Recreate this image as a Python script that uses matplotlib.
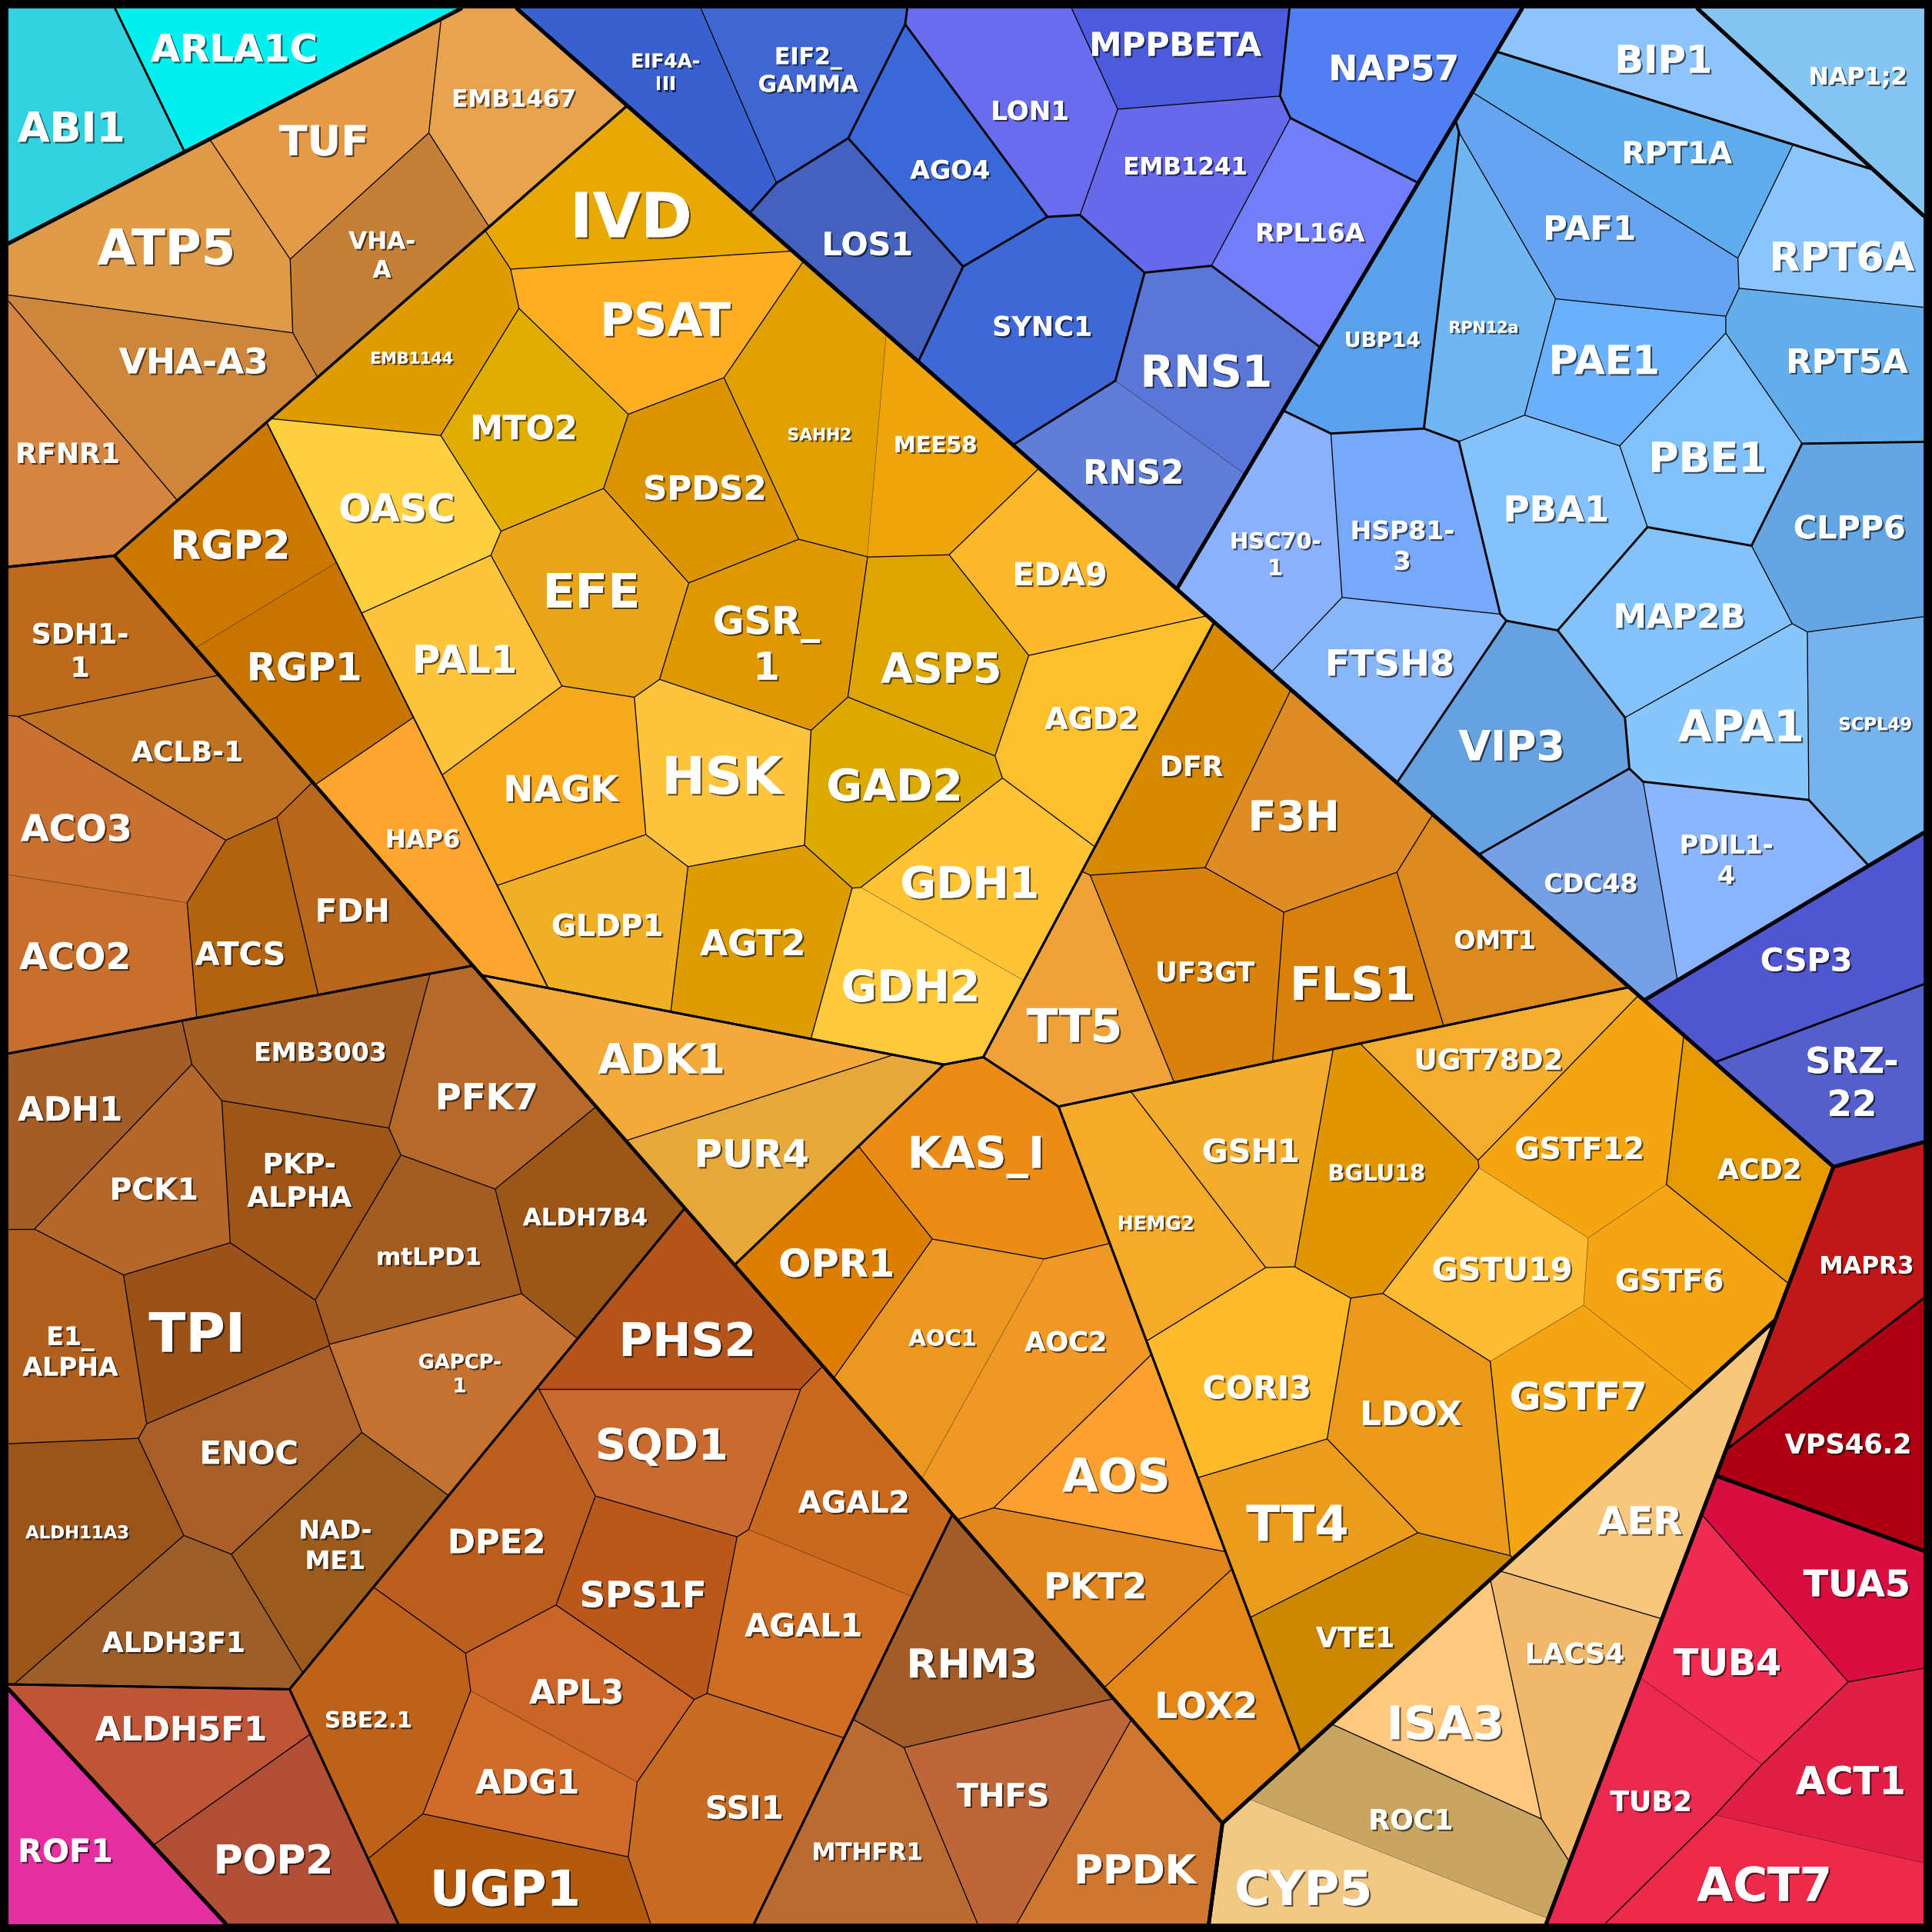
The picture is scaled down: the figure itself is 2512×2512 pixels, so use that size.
#!/usr/bin/env python3
"""Voronoi treemap of gene labels, drawn as a hierarchical power diagram."""

import matplotlib
matplotlib.use("Agg")
import matplotlib.pyplot as plt
import matplotlib.patheffects as pe
from matplotlib.collections import LineCollection, PolyCollection

# canvas is laid out in 1568 "display" units, inner square inside a black frame
SIZE = 1568
LO, HI = 7, 1561
PX = 1.602 * 0.72          # display unit -> points
FONT_SCALE = 1.582 * 0.94  # cap height (display units) -> font size in points

# ---- hierarchy of nested cells (power diagram sites + weights per level) ----
TREE = {
    "root": ["X", "Y", "Z"],
    "X": ["navy", "sky", "nap", "violet"],
    "Y": ["cyan", "atp", "upper", "lower", "beige", "magenta"],
    "Z": ["crimson", "red"],
    "upper": ["y1", "y2", "y3", "y4", "y5"],
    "y1": ["rgp", "core"],
    "lower": ["w1", "w2", "w3", "w4", "w5"],
    "sky": ["skytop", "skyrest"],
}
NODE_SITE = {
    "X": (1088.4, 399.4), "Y": (560.0, 1000.0), "Z": (1333.2, 1293.4),
    "navy": (996.2, 195.5), "sky": (1340.0, 400.0), "nap": (1508.9, 215.75),
    "violet": (1571.4, 786.0),
    "cyan": (137.9, 72.5), "atp": (230.0, 250.0), "upper": (688.4, 772.1),
    "lower": (318.5, 1095.4), "beige": (1076.3, 1198.2), "magenta": (61.7, 1333.2),
    "crimson": (1490.0, 1080.0), "red": (1388.0, 1362.2),
    "y1": (640.0, 480.0), "y2": (570.0, 842.0), "y3": (978.1, 659.6),
    "y4": (741.2, 1020.7), "y5": (1030.9, 912.0),
    "rgp": (250.0, 560.0), "core": (518.6, 426.3),
    "w1": (140.0, 657.3), "w2": (220.0, 1080.0), "w3": (214.7, 1380.3),
    "w4": (451.9, 1270.5), "w5": (748.9, 1414.4),
    "skytop": (1459.6, 18.4), "skyrest": (1340.0, 400.0),
}
NODE_WEIGHT = {
    "X": -404447, "Y": 0, "Z": -720037,
    "navy": -72712, "sky": 0, "nap": -95099, "violet": -112822,
    "cyan": 39445, "atp": 59170, "upper": 457606, "lower": 466101,
    "beige": -49033, "magenta": 297535,
    "crimson": 0, "red": 3780,
    "y1": 0, "y2": -124432, "y3": -96049, "y4": -138152, "y5": -137354,
    "rgp": 0, "core": 49991,
    "w1": -39220, "w2": 0, "w3": -84408, "w4": -27760, "w5": -97614,
    "skytop": -83410, "skyrest": 0,
}

# ---- genes in each innermost cell, split into sub-groups ----
CYAN_GENES = [["ABI1"], ["ARLA1C"]]
ATP_GENES = [["ATP5", "TUF", "EMB1467", "VHA-A", "VHA-A3", "RFNR1"]]
RGP_GENES = [["RGP2", "RGP1", "HAP6"]]
CORE_GENES = [["IVD", "PSAT", "EMB1144", "MTO2", "OASC", "EFE", "SPDS2", "SAHH2",
               "MEE58", "EDA9", "ASP5", "GSR_1", "HSK", "GAD2", "AGD2", "GDH1",
               "GDH2", "AGT2", "GLDP1", "NAGK", "PAL1"]]
Y2_GENES = [["ADK1", "PUR4"]]
Y3_GENES = [["TT5", "DFR", "F3H", "UF3GT", "FLS1", "OMT1"]]
Y4_GENES = [["KAS_I", "OPR1", "AOC1", "AOC2", "AOS", "PKT2", "LOX2"]]
Y5_GENES = [["GSH1", "HEMG2", "CORI3", "TT4", "VTE1", "LDOX", "BGLU18", "UGT78D2",
             "GSTF12", "GSTU19", "GSTF6", "GSTF7", "ACD2"]]
W1_GENES = [["SDH1-1", "ACLB-1", "ACO3", "ACO2", "ATCS", "FDH"]]
W2_GENES = [["ADH1", "EMB3003", "PFK7", "PCK1", "PKP-ALPHA", "mtLPD1", "ALDH7B4",
             "TPI", "E1_ALPHA", "GAPCP-1", "ENOC", "NAD-ME1", "ALDH11A3", "ALDH3F1"]]
W3_GENES = [["ALDH5F1", "POP2"]]
W4_GENES = [["SBE2.1", "UGP1", "ADG1", "APL3", "DPE2", "SPS1F", "SQD1", "PHS2",
             "AGAL2", "AGAL1", "SSI1"]]
W5_GENES = [["RHM3", "MTHFR1", "THFS", "PPDK"]]
BEIGE_GENES = [["AER", "LACS4", "ISA3", "ROC1", "CYP5"]]
MAGENTA_GENES = [["ROF1"]]
NAVY_GENES = [["EIF4A-III", "EIF2_GAMMA"], ["LOS1"], ["AGO4"],
              ["LON1", "MPPBETA", "EMB1241", "RPL16A"], ["NAP57"], ["SYNC1"],
              ["RNS1", "RNS2"]]
SKYTOP_GENES = [["BIP1"]]
SKYREST_GENES = [["RPT1A", "PAF1", "RPN12a", "PAE1", "RPT6A", "RPT5A", "PBE1", "PBA1"],
                 ["UBP14"], ["HSC70-1", "HSP81-3", "FTSH8"], ["VIP3"],
                 ["MAP2B", "APA1", "SCPL49", "CLPP6"], ["CDC48", "PDIL1-4"]]
NAP_GENES = [["NAP1;2"]]
VIOLET_GENES = [["CSP3"], ["SRZ-22"]]
CRIMSON_GENES = [["MAPR3"], ["VPS46.2"]]
RED_GENES = [["TUA5", "TUB4", "TUB2", "ACT1", "ACT7"]]

# genes whose shared borders are only faintly drawn
FAINT = [{"RGP2", "RGP1"}, {"GDH1", "GDH2"}, {"SAHH2", "MEE58"}, {"AOC1", "AOC2"},
         {"GSTF12", "GSTU19", "GSTF6", "GSTF7"}, {"ACO3", "ACO2"}, {"ADG1", "APL3"},
         {"AGAL1", "AGAL2"}, {"RNS1", "RNS2"}, {"ROC1", "CYP5"}, {"TUB4", "TUB2"},
         {"ACT1", "ACT7"}]

LABEL_TEXT = {
    "EIF4A-III": "EIF4A-\nIII", "EIF2_GAMMA": "EIF2_\nGAMMA", "VHA-A": "VHA-\nA",
    "SDH1-1": "SDH1-\n1", "GSR_1": "GSR_\n1", "HSC70-1": "HSC70-\n1",
    "HSP81-3": "HSP81-\n3", "PKP-ALPHA": "PKP-\nALPHA", "E1_ALPHA": "E1_\nALPHA",
    "GAPCP-1": "GAPCP-\n1", "NAD-ME1": "NAD-\nME1", "PDIL1-4": "PDIL1-\n4",
    "SRZ-22": "SRZ-\n22",
}

# ---- label centres (also the cell sites unless listed in SITE_OVERRIDE) ----
LABEL_AT = {
    "ABI1": (58, 102), "ARLA1C": (190, 38),
    "ATP5": (135, 199), "TUF": (263, 113), "EMB1467": (417, 79), "VHA-A": (310, 206),
    "VHA-A3": (157, 292), "RFNR1": (55, 367),
    "IVD": (512, 173), "PSAT": (540, 258), "EMB1144": (334, 290), "MTO2": (425, 346),
    "OASC": (322, 411), "EFE": (480, 478), "SPDS2": (572, 395), "SAHH2": (665, 352),
    "MEE58": (759, 360), "EDA9": (860, 465), "ASP5": (764, 541), "GSR_1": (622, 521),
    "HSK": (586, 628), "GAD2": (726, 636), "AGD2": (886, 582), "GDH1": (787, 715),
    "GDH2": (739, 799), "AGT2": (611, 764), "GLDP1": (493, 750), "NAGK": (455, 639),
    "PAL1": (377, 534), "RGP2": (187, 441), "RGP1": (247, 540), "HAP6": (343, 680),
    "ADK1": (537, 858), "PUR4": (610, 935),
    "TT5": (872, 831), "DFR": (967, 621), "F3H": (1050, 661), "UF3GT": (978, 788),
    "FLS1": (1098, 797), "OMT1": (1213, 762),
    "KAS_I": (792, 934), "OPR1": (679, 1024), "AOC1": (765, 1085), "AOC2": (865, 1088),
    "AOS": (906, 1196), "PKT2": (889, 1286), "LOX2": (979, 1383),
    "GSH1": (1015, 933), "HEMG2": (938, 992), "CORI3": (1020, 1125), "TT4": (1053, 1235),
    "VTE1": (1100, 1328), "LDOX": (1145, 1146), "BGLU18": (1117, 951),
    "UGT78D2": (1208, 859), "GSTF12": (1282, 931), "GSTU19": (1219, 1029),
    "GSTF6": (1355, 1038), "GSTF7": (1281, 1132), "ACD2": (1428, 948),
    "SDH1-1": (65, 527), "ACLB-1": (152, 609), "ACO3": (62, 671), "ACO2": (61, 775),
    "ATCS": (195, 773), "FDH": (286, 738),
    "ADH1": (57, 899), "EMB3003": (260, 853), "PFK7": (395, 889), "PCK1": (125, 964),
    "PKP-ALPHA": (243, 957), "mtLPD1": (348, 1019), "ALDH7B4": (475, 987),
    "TPI": (160, 1080), "E1_ALPHA": (57, 1096), "GAPCP-1": (373, 1114),
    "ENOC": (202, 1178), "NAD-ME1": (272, 1253), "ALDH11A3": (63, 1243),
    "ALDH3F1": (141, 1332),
    "ALDH5F1": (147, 1402), "POP2": (222, 1508),
    "SBE2.1": (299, 1395), "UGP1": (410, 1531), "ADG1": (428, 1445), "APL3": (468, 1372),
    "DPE2": (403, 1250), "SPS1F": (522, 1293), "SQD1": (537, 1171), "PHS2": (558, 1086),
    "AGAL2": (693, 1218), "AGAL1": (652, 1318), "SSI1": (604, 1466),
    "RHM3": (789, 1349), "MTHFR1": (704, 1502), "THFS": (814, 1456), "PPDK": (921, 1516),
    "AER": (1331, 1233), "LACS4": (1278, 1341), "ISA3": (1173, 1397),
    "ROC1": (1145, 1476), "CYP5": (1058, 1531),
    "ROF1": (53, 1501),
    "EIF4A-III": (540, 58), "EIF2_GAMMA": (656, 56), "LOS1": (704, 197),
    "AGO4": (771, 137), "SYNC1": (846, 264), "LON1": (836, 89), "MPPBETA": (954, 35),
    "EMB1241": (962, 134), "RNS1": (979, 300), "RNS2": (920, 382), "NAP57": (1131, 54),
    "RPL16A": (1063, 188),
    "BIP1": (1350, 47), "RPT1A": (1361, 123), "PAF1": (1290, 184), "RPT6A": (1495, 207),
    "UBP14": (1122, 275), "RPN12a": (1204, 265), "PAE1": (1302, 291),
    "RPT5A": (1499, 292), "PBE1": (1386, 370), "PBA1": (1263, 412), "CLPP6": (1501, 427),
    "HSC70-1": (1035, 449), "HSP81-3": (1138, 442), "FTSH8": (1128, 537),
    "MAP2B": (1363, 499), "APA1": (1413, 588), "SCPL49": (1522, 587), "VIP3": (1227, 604),
    "CDC48": (1291, 716), "PDIL1-4": (1401, 697),
    "NAP1;2": (1508, 61),
    "CSP3": (1466, 778), "SRZ-22": (1503, 877),
    "MAPR3": (1515, 1026), "VPS46.2": (1500, 1171),
    "TUA5": (1507, 1284), "TUB4": (1402, 1348), "TUB2": (1340, 1461),
    "ACT1": (1502, 1444), "ACT7": (1432, 1528),
}
# cell generators that sit away from the label, and power weights of cells
SITE_OVERRIDE = {
    "PSAT": (517, 251), "EIF4A-III": (574, 80.5), "EIF2_GAMMA": (619, 61),
    "ROC1": (1140, 1470), "CYP5": (1112, 1540), "PUR4": (571, 964),
    "SQD1": (558, 1168),
    "SDH1-1": (127, 500), "ACLB-1": (150, 612), "ACO3": (106, 686),
    "ACO2": (94, 763), "ATCS": (214, 753), "FDH": (274, 739),
    "PAF1": (1311, 203), "RPT6A": (1509, 195), "UBP14": (1128, 256),
    "VHA-A": (335, 192), "EMB1467": (430, 131), "VHA-A3": (120, 312),
    "MAPR3": (1490, 1040), "VPS46.2": (1556, 1126),
    "TUA5": (1472.7, 1276.4), "TUB4": (1400, 1340), "TUB2": (1394.8, 1347.3),
    "ACT1": (1503.7, 1448.3), "ACT7": (1502, 1455.7),
    "LACS4": (1290, 1372), "AOC2": (837, 1125),
}
LEAF_WEIGHT = {"TUA5": -2030, "TUB2": -951, "ACT1": -3672, "ACT7": -4360}

FILL = {
    "ABI1": "#30d3df", "ARLA1C": "#00f0f0",
    "ATP5": "#df9a48", "TUF": "#e59a47", "EMB1467": "#e8a34f", "VHA-A": "#c48036",
    "VHA-A3": "#cd873c", "RFNR1": "#d68441",
    "IVD": "#e9a904", "PSAT": "#fdae22", "EMB1144": "#df9c00", "MTO2": "#e0ae00",
    "OASC": "#fecf3e", "EFE": "#e9a61a", "SPDS2": "#da9500", "SAHH2": "#e0a000",
    "MEE58": "#efa50a", "EDA9": "#fcb82a", "ASP5": "#dda500", "GSR_1": "#df9800",
    "HSK": "#fec53c", "GAD2": "#dba900", "AGD2": "#fcbf2e", "GDH1": "#fec436",
    "GDH2": "#feca3c", "AGT2": "#dd9c00", "GLDP1": "#f0b025", "NAGK": "#f7a91c",
    "PAL1": "#fec53c", "RGP2": "#cc7800", "RGP1": "#c87500", "HAP6": "#fda52f",
    "ADK1": "#f4aa3a", "PUR4": "#e6a83a",
    "TT5": "#f0a23a", "DFR": "#d68800", "F3H": "#df8c25", "UF3GT": "#d8820c",
    "FLS1": "#d7810b", "OMT1": "#dc8920",
    "KAS_I": "#eb8c16", "OPR1": "#dc7f00", "AOC1": "#ec9722", "AOC2": "#ef9826",
    "AOS": "#fda030", "PKT2": "#e1861e", "LOX2": "#e38818",
    "GSH1": "#f3ad2e", "HEMG2": "#f6aa2a", "CORI3": "#feba2a", "TT4": "#ea9c1a",
    "VTE1": "#cc8800", "LDOX": "#ea9a18", "BGLU18": "#e19500", "UGT78D2": "#f3ae30",
    "GSTF12": "#f3a512", "GSTU19": "#fdbc34", "GSTF6": "#f5a514", "GSTF7": "#f4a514",
    "ACD2": "#e49a00",
    "SDH1-1": "#bd6a1a", "ACLB-1": "#bf7222", "ACO3": "#ca7131", "ACO2": "#c86f2e",
    "ATCS": "#b2630f", "FDH": "#b7661b",
    "ADH1": "#a45d26", "EMB3003": "#a45d22", "PFK7": "#b56a2c", "PCK1": "#b3672a",
    "PKP-ALPHA": "#9d5618", "mtLPD1": "#a35c22", "ALDH7B4": "#9c5718", "TPI": "#9b5219",
    "E1_ALPHA": "#af601e", "GAPCP-1": "#c37232", "ENOC": "#a85f28", "NAD-ME1": "#9b5b1c",
    "ALDH11A3": "#9b5519", "ALDH3F1": "#9d5f29",
    "ALDH5F1": "#bf5537", "POP2": "#b04f36",
    "SBE2.1": "#bf6219", "UGP1": "#b35a0c", "ADG1": "#d06b2a", "APL3": "#c96526",
    "DPE2": "#bb5e1d", "SPS1F": "#b9581a", "SQD1": "#c96b30", "PHS2": "#b4531a",
    "AGAL2": "#c8691e", "AGAL1": "#cf6d22", "SSI1": "#c76c22",
    "RHM3": "#a35b28", "MTHFR1": "#ba6b32", "THFS": "#bc663a", "PPDK": "#cf7730",
    "AER": "#f8c77e", "LACS4": "#eeb96c", "ISA3": "#fec97e", "ROC1": "#c9a562",
    "CYP5": "#f1c884",
    "ROF1": "#e52fa0",
    "EIF4A-III": "#3a60cf", "EIF2_GAMMA": "#3f66d1", "LOS1": "#4561c0", "AGO4": "#3a68d9",
    "SYNC1": "#3f67d5", "LON1": "#696cec", "MPPBETA": "#4c5bdb", "EMB1241": "#6669ea",
    "RNS1": "#5a76d6", "RNS2": "#607dd8", "NAP57": "#527ef2", "RPL16A": "#737efb",
    "BIP1": "#8cc4fb", "RPT1A": "#60adee", "PAF1": "#66a4f2", "RPT6A": "#8bc5fb",
    "UBP14": "#5ba0eb", "RPN12a": "#70b6f2", "PAE1": "#6bb0fa", "RPT5A": "#63aeea",
    "PBE1": "#80c1fb", "PBA1": "#84c2fb", "CLPP6": "#63a6e3", "HSC70-1": "#8bb1fc",
    "HSP81-3": "#78a8fb", "FTSH8": "#88b6fb", "MAP2B": "#84c2fb", "APA1": "#86c6fb",
    "SCPL49": "#76b3ee", "VIP3": "#66a2df", "CDC48": "#76a0e6", "PDIL1-4": "#8ab5fc",
    "NAP1;2": "#84c5f2",
    "CSP3": "#5055d0", "SRZ-22": "#555fcb",
    "MAPR3": "#c01818", "VPS46.2": "#ac0012",
    "TUA5": "#d80d40", "TUB4": "#f02b51", "TUB2": "#ea2850", "ACT1": "#e01f44",
    "ACT7": "#ee2a4b",
}

CAP = {
    "ABI1": 26, "ARLA1C": 24, "ATP5": 31, "TUF": 26, "EMB1467": 15, "VHA-A": 15,
    "VHA-A3": 22, "RFNR1": 17.5,
    "IVD": 39, "PSAT": 29, "EMB1144": 10, "MTO2": 21, "OASC": 24, "EFE": 30,
    "SPDS2": 21, "SAHH2": 10.5, "MEE58": 14, "EDA9": 20, "ASP5": 26, "GSR_1": 24,
    "HSK": 32.5, "GAD2": 27.5, "AGD2": 19, "GDH1": 27.5, "GDH2": 27.5, "AGT2": 22.5,
    "GLDP1": 19, "NAGK": 22.5, "PAL1": 24, "RGP2": 25, "RGP1": 24, "HAP6": 15.5,
    "ADK1": 26, "PUR4": 24, "TT5": 29, "DFR": 17.5, "F3H": 26, "UF3GT": 17,
    "FLS1": 29, "OMT1": 16,
    "KAS_I": 27.5, "OPR1": 24, "AOC1": 14, "AOC2": 17, "AOS": 29, "PKT2": 22.5,
    "LOX2": 22.5,
    "GSH1": 20, "HEMG2": 12, "CORI3": 20, "TT4": 31, "VTE1": 17.5, "LDOX": 21,
    "BGLU18": 14, "UGT78D2": 18, "GSTF12": 19, "GSTU19": 20, "GSTF6": 19,
    "GSTF7": 24, "ACD2": 17.5,
    "SDH1-1": 17.5, "ACLB-1": 17.5, "ACO3": 23, "ACO2": 23, "ATCS": 20, "FDH": 20,
    "ADH1": 21, "EMB3003": 16, "PFK7": 22.5, "PCK1": 19, "PKP-ALPHA": 17.5,
    "mtLPD1": 15, "ALDH7B4": 15, "TPI": 34, "E1_ALPHA": 16, "GAPCP-1": 12.5,
    "ENOC": 20, "NAD-ME1": 16, "ALDH11A3": 11, "ALDH3F1": 17.5,
    "ALDH5F1": 21, "POP2": 25,
    "SBE2.1": 14, "UGP1": 31, "ADG1": 21, "APL3": 21, "DPE2": 21, "SPS1F": 22.5,
    "SQD1": 27, "PHS2": 29, "AGAL2": 19, "AGAL1": 20, "SSI1": 20,
    "RHM3": 25, "MTHFR1": 15, "THFS": 20, "PPDK": 25,
    "AER": 24, "LACS4": 17.5, "ISA3": 29, "ROC1": 17.5, "CYP5": 30,
    "ROF1": 20,
    "EIF4A-III": 12, "EIF2_GAMMA": 14.5, "LOS1": 20, "AGO4": 16, "SYNC1": 17,
    "LON1": 16.5, "MPPBETA": 20.5, "EMB1241": 15, "RNS1": 27.5, "RNS2": 21,
    "NAP57": 22, "RPL16A": 16,
    "BIP1": 24, "RPT1A": 19, "PAF1": 21, "RPT6A": 25, "UBP14": 13, "RPN12a": 10,
    "PAE1": 25, "RPT5A": 21, "PBE1": 26, "PBA1": 22.5, "CLPP6": 20, "HSC70-1": 14,
    "HSP81-3": 16, "FTSH8": 22.5, "MAP2B": 21, "APA1": 27.5, "SCPL49": 11,
    "VIP3": 26, "CDC48": 16, "PDIL1-4": 16,
    "NAP1;2": 15, "CSP3": 20, "SRZ-22": 22.5, "MAPR3": 15, "VPS46.2": 17,
    "TUA5": 23, "TUB4": 23, "TUB2": 17.5, "ACT1": 24, "ACT7": 29.5,
}

# line widths in display units
THICK, MEDIUM, THIN, FAINT_W = 3.0, 1.8, 0.8, 0.4
LEVEL_WIDTH = {"root": THICK, "X": THICK, "Y": THICK, "Z": THICK,
               "upper": MEDIUM, "lower": MEDIUM, "sky": MEDIUM, "y1": 1.0}
PAIR_WIDTH = {
    frozenset(("atp", "upper")): 2.0,
    frozenset(("atp", "lower")): 2.0,
    frozenset(("upper", "lower")): 2.6,
}


def clip(pts, tags, a, b, tag):
    """Keep the part of a polygon where a.x <= b; tags follow the edges."""
    out_p, out_t = [], []
    n = len(pts)
    for i in range(n):
        p, q = pts[i], pts[(i + 1) % n]
        dp = a[0] * p[0] + a[1] * p[1] - b
        dq = a[0] * q[0] + a[1] * q[1] - b
        if dp <= 0:
            out_p.append(p)
            out_t.append(tags[i])
            if dq > 0:
                s = dp / (dp - dq)
                out_p.append((p[0] + s * (q[0] - p[0]), p[1] + s * (q[1] - p[1])))
                out_t.append(tag)
        elif dq <= 0:
            s = dp / (dp - dq)
            out_p.append((p[0] + s * (q[0] - p[0]), p[1] + s * (q[1] - p[1])))
            out_t.append(tags[i])
    return out_p, out_t


def power_cells(poly, tags, names, sites, weights):
    cells = []
    for k in range(len(names)):
        pts, tg = list(poly), list(tags)
        pk, wk = sites[k], weights[k]
        for j in range(len(names)):
            if j == k or len(pts) < 3:
                continue
            pj, wj = sites[j], weights[j]
            a = (2 * (pj[0] - pk[0]), 2 * (pj[1] - pk[1]))
            b = pj[0] ** 2 + pj[1] ** 2 - pk[0] ** 2 - pk[1] ** 2 - wj + wk
            pts, tg = clip(pts, tg, a, b, names[j])
        cells.append((pts, tg))
    return cells


def layout(name, poly, tags, nodes):
    nodes[name] = (poly, tags)
    kids = TREE.get(name)
    if not kids:
        return
    cells = power_cells(poly, tags, kids, [NODE_SITE[k] for k in kids],
                        [NODE_WEIGHT[k] for k in kids])
    for kid, (p, t) in zip(kids, cells):
        layout(kid, p, t, nodes)


def draw_label(ax, gene):
    cx, cy = LABEL_AT[gene]
    cap = CAP[gene]
    lines = LABEL_TEXT.get(gene, gene).split("\n")
    pitch = 1.55 * cap
    first = cy - (len(lines) - 1) * pitch / 2 + cap / 2
    effects = [pe.withSimplePatchShadow(offset=(1.6, -1.6), shadow_rgbFace="black",
                                        alpha=0.6), pe.Normal()]
    for i, line in enumerate(lines):
        ax.text(cx, first + i * pitch, line, ha="center", va="baseline",
                fontsize=cap * FONT_SCALE, fontweight="bold", family="DejaVu Sans",
                color="white", zorder=10, path_effects=effects)


def main():
    group_genes = {
        "cyan": CYAN_GENES, "atp": ATP_GENES, "rgp": RGP_GENES, "core": CORE_GENES,
        "y2": Y2_GENES, "y3": Y3_GENES, "y4": Y4_GENES, "y5": Y5_GENES,
        "w1": W1_GENES, "w2": W2_GENES, "w3": W3_GENES, "w4": W4_GENES,
        "w5": W5_GENES, "beige": BEIGE_GENES, "magenta": MAGENTA_GENES,
        "navy": NAVY_GENES, "skytop": SKYTOP_GENES, "skyrest": SKYREST_GENES,
        "nap": NAP_GENES, "violet": VIOLET_GENES, "crimson": CRIMSON_GENES,
        "red": RED_GENES,
    }
    square = [(LO, LO), (HI, LO), (HI, HI), (LO, HI)]
    nodes = {}
    layout("root", square, [None] * 4, nodes)

    fig = plt.figure(figsize=(25.12, 25.12), dpi=100)
    fig.patch.set_facecolor("black")
    ax = fig.add_axes([0, 0, 1, 1])
    ax.set_facecolor("black")
    ax.set_xlim(0, SIZE)
    ax.set_ylim(SIZE, 0)
    ax.axis("off")

    polys, fills = [], []
    segs = {FAINT_W: [], THIN: [], MEDIUM: []}
    for group, subs in group_genes.items():
        genes = [g for grp in subs for g in grp]
        sub = {g: gi for gi, grp in enumerate(subs) for g in grp}
        order = {g: i for i, g in enumerate(genes)}
        pts, tg = nodes[group]
        sites = [SITE_OVERRIDE.get(g, LABEL_AT[g]) for g in genes]
        weights = [LEAF_WEIGHT.get(g, 0) for g in genes]
        cells = power_cells(pts, tg, genes, sites, weights)
        for gene, (cp, ct) in zip(genes, cells):
            if len(cp) < 3:
                continue
            polys.append(cp)
            fills.append(FILL[gene])
            for i, other in enumerate(ct):
                if other not in order or order[other] < order[gene]:
                    continue
                seg = [cp[i], cp[(i + 1) % len(cp)]]
                if sub[gene] != sub[other]:
                    segs[MEDIUM].append(seg)
                elif any(gene in s and other in s for s in FAINT):
                    segs[FAINT_W].append(seg)
                else:
                    segs[THIN].append(seg)

    ax.add_collection(PolyCollection(polys, facecolors=fills, edgecolors=fills,
                                     linewidths=0.6, zorder=1))
    ax.add_collection(LineCollection(segs[FAINT_W], colors="black", alpha=0.5,
                                     linewidths=FAINT_W * PX, zorder=2))
    ax.add_collection(LineCollection(segs[THIN], colors="black",
                                     linewidths=THIN * PX, zorder=3))
    ax.add_collection(LineCollection(segs[MEDIUM], colors="black",
                                     linewidths=MEDIUM * PX, capstyle="round", zorder=4))

    # outlines of the nested cells, thicker for higher levels
    for parent in ["y1", "sky", "upper", "lower", "X", "Y", "Z", "root"]:
        kids = TREE[parent]
        outline, widths = [], []
        for kid in kids:
            cp, ct = nodes[kid]
            for i, other in enumerate(ct):
                if other not in kids:
                    continue
                outline.append([cp[i], cp[(i + 1) % len(cp)]])
                w = PAIR_WIDTH.get(frozenset((kid, other)), LEVEL_WIDTH[parent])
                widths.append(w * PX)
        ax.add_collection(LineCollection(outline, colors="black", linewidths=widths,
                                         capstyle="round", zorder=5))

    for subs in group_genes.values():
        for grp in subs:
            for gene in grp:
                draw_label(ax, gene)

    fig.savefig("out.png", dpi=100, facecolor="black")
    plt.close(fig)


if __name__ == "__main__":
    main()
